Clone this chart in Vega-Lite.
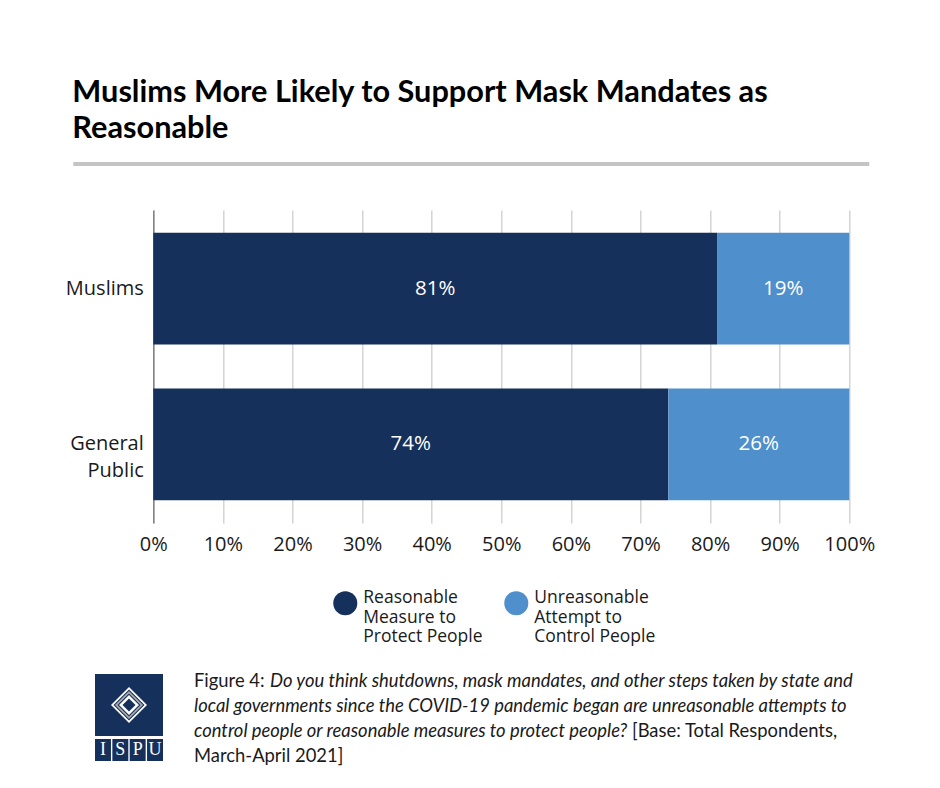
{
  "$schema": "https://vega.github.io/schema/vega-lite/v6.json",
  "background": "white",
  "padding": {"left": 65, "top": 77, "right": 0, "bottom": 10},
  "title": {
    "text": ["Muslims More Likely to Support Mask Mandates as", "Reasonable"],
    "anchor": "start",
    "dx": 7,
    "fontSize": 30.7,
    "lineHeight": 36,
    "font": "Lato",
    "fontWeight": "bold",
    "color": "#000000",
    "offset": 17
  },
  "config": {
    "view": {"stroke": null},
    "font": "Open Sans"
  },
  "spacing": 26,
  "center": true,
  "vconcat": [
    {
      "spacing": 44,
      "resolve": {"legend": {"color": "independent"}},
      "vconcat": [
        {
          "width": 696,
          "height": 4,
          "data": {"values": [{}]},
          "mark": {"type": "rect", "color": "#c4c4c4", "clip": false},
          "encoding": {
            "x": {"datum": -0.115, "type": "quantitative", "scale": {"domain": [0, 1]}, "axis": null},
            "x2": {"datum": 1.0287}
          }
        },
        {
          "width": 696,
          "height": 313,
          "data": {
            "values": [
              {"group": "Muslims", "response": "Reasonable Measure to Protect People", "share": 0.81, "rank": 1},
              {"group": "Muslims", "response": "Unreasonable Attempt to Control People", "share": 0.19, "rank": 2},
              {"group": "General Public", "response": "Reasonable Measure to Protect People", "share": 0.74, "rank": 1},
              {"group": "General Public", "response": "Unreasonable Attempt to Control People", "share": 0.26, "rank": 2}
            ]
          },
          "encoding": {
            "y": {
              "field": "group",
              "type": "nominal",
              "sort": ["Muslims", "General Public"],
              "scale": {"paddingInner": 0.282, "paddingOuter": 0.147},
              "axis": {
                "title": null,
                "domain": true,
                "domainColor": "#7f7f7f",
                "domainWidth": 1.5,
                "ticks": false,
                "labelPadding": 10,
                "labelFontSize": 20,
                "labelColor": "#1a1a1a",
                "labelLineHeight": 27,
                "labelExpr": "datum.label == 'General Public' ? ['General', 'Public'] : datum.label"
              }
            }
          },
          "layer": [
            {
              "mark": {"type": "bar"},
              "encoding": {
                "x": {
                  "field": "share",
                  "type": "quantitative",
                  "stack": "zero",
                  "scale": {"domain": [0, 1]},
                  "axis": {
                    "title": null,
                    "values": [0, 0.1, 0.2, 0.3, 0.4, 0.5, 0.6, 0.7, 0.8, 0.9, 1],
                    "format": ".0%",
                    "domain": false,
                    "ticks": false,
                    "grid": true,
                    "gridColor": "#d4d4d4",
                    "gridWidth": 1.5,
                    "labelOverlap": false,
                    "labelFlush": false,
                    "labelPadding": 11,
                    "labelFontSize": 20,
                    "labelColor": "#1a1a1a"
                  }
                },
                "color": {
                  "field": "response",
                  "type": "nominal",
                  "scale": {
                    "domain": ["Reasonable Measure to Protect People", "Unreasonable Attempt to Control People"],
                    "range": ["#15305a", "#4f8fcb"]
                  },
                  "legend": {
                    "title": null,
                    "orient": "none",
                    "legendX": 180,
                    "legendY": 381,
                    "direction": "horizontal",
                    "padding": 0,
                    "symbolType": "circle",
                    "symbolSize": 576,
                    "symbolStrokeWidth": 0,
                    "symbolOpacity": 1,
                    "labelFontSize": 17.5,
                    "labelLineHeight": 18,
                    "labelBaseline": "alphabetic",
                    "labelOffset": 6,
                    "labelColor": "#1a1a1a",
                    "columnPadding": 21,
                    "labelLimit": 300,
                    "labelExpr": "datum.label == 'Reasonable Measure to Protect People' ? ['Reasonable', 'Measure to', 'Protect People'] : ['Unreasonable', 'Attempt to', 'Control People']"
                  }
                },
                "order": {"field": "rank"}
              }
            },
            {
              "mark": {"type": "text", "color": "white", "fontSize": 20.5, "baseline": "middle"},
              "encoding": {
                "x": {"field": "share", "type": "quantitative", "stack": "zero", "bandPosition": 0.5},
                "text": {"field": "share", "type": "quantitative", "format": ".0%"},
                "order": {"field": "rank"}
              }
            }
          ]
        }
      ]
    },
    {
      "spacing": 31,
      "hconcat": [
        {
          "spacing": 3,
          "vconcat": [
            {
              "width": 68,
              "height": 62,
              "view": {"fill": "#15305a", "stroke": null},
              "data": {"values": [{}]},
              "layer": [
                {"mark": {"type": "point", "shape": "diamond", "filled": true, "size": 1296, "color": "#ffffff", "opacity": 1}, "encoding": {}},
                {"mark": {"type": "point", "shape": "diamond", "filled": true, "size": 961, "color": "#15305a", "opacity": 1}, "encoding": {}},
                {"mark": {"type": "point", "shape": "diamond", "filled": true, "size": 784, "color": "#a8a8a8", "opacity": 1}, "encoding": {}},
                {"mark": {"type": "point", "shape": "diamond", "filled": true, "size": 529, "color": "#15305a", "opacity": 1}, "encoding": {}},
                {"mark": {"type": "point", "shape": "diamond", "filled": true, "size": 400, "color": "#ffffff", "opacity": 1}, "encoding": {}},
                {"mark": {"type": "point", "shape": "diamond", "filled": true, "size": 169, "color": "#15305a", "opacity": 1}, "encoding": {}}
              ]
            },
            {
              "width": 68,
              "height": 22,
              "data": {"values": [{"letter": "I"}, {"letter": "S"}, {"letter": "P"}, {"letter": "U"}]},
              "encoding": {
                "x": {"field": "letter", "type": "nominal", "sort": null, "scale": {"paddingInner": 0.08, "paddingOuter": 0}, "axis": null}
              },
              "layer": [
                {"mark": {"type": "bar", "color": "#15305a"}},
                {"mark": {"type": "text", "color": "white", "font": "Liberation Serif", "fontSize": 18, "baseline": "middle"}, "encoding": {"text": {"field": "letter"}}}
              ]
            }
          ]
        },
        {
          "width": 739,
          "height": 89,
          "data": {
            "values": [
              {"line": 1, "piece": 1, "text": "Figure 4:"},
              {"line": 1, "piece": 2, "text": "Do you think shutdowns, mask mandates, and other steps taken by state and"},
              {"line": 2, "piece": 1, "text": "local governments since the COVID-19 pandemic began are unreasonable attempts to"},
              {"line": 3, "piece": 1, "text": "control people or reasonable measures to protect people?"},
              {"line": 3, "piece": 2, "text": "[Base: Total Respondents,"},
              {"line": 4, "piece": 1, "text": "March-April 2021]"}
            ]
          },
          "encoding": {
            "x": {"datum": 0, "type": "quantitative", "scale": {"domain": [0, 1]}, "axis": null},
            "y": {"field": "line", "type": "ordinal", "scale": {"type": "point", "padding": 0.28}, "axis": null},
            "text": {"field": "text"}
          },
          "layer": [
            {
              "transform": [{"filter": "datum.piece == 1 && (datum.line == 1 || datum.line == 4)"}],
              "mark": {"type": "text", "align": "left", "baseline": "middle", "font": "Lato", "fontSize": 18.4, "color": "#1a1a1a"}
            },
            {
              "transform": [{"filter": "datum.piece == 1 && (datum.line == 2 || datum.line == 3)"}],
              "mark": {"type": "text", "align": "left", "baseline": "middle", "font": "Lato", "fontStyle": "italic", "fontSize": 18.4, "color": "#1a1a1a"}
            },
            {
              "transform": [{"filter": "datum.piece == 2 && datum.line == 1"}],
              "mark": {"type": "text", "align": "left", "baseline": "middle", "dx": 76, "font": "Lato", "fontStyle": "italic", "fontSize": 18.4, "color": "#1a1a1a"}
            },
            {
              "transform": [{"filter": "datum.piece == 2 && datum.line == 3"}],
              "mark": {"type": "text", "align": "left", "baseline": "middle", "dx": 438, "font": "Lato", "fontSize": 18.4, "color": "#1a1a1a"}
            }
          ]
        }
      ]
    }
  ]
}
